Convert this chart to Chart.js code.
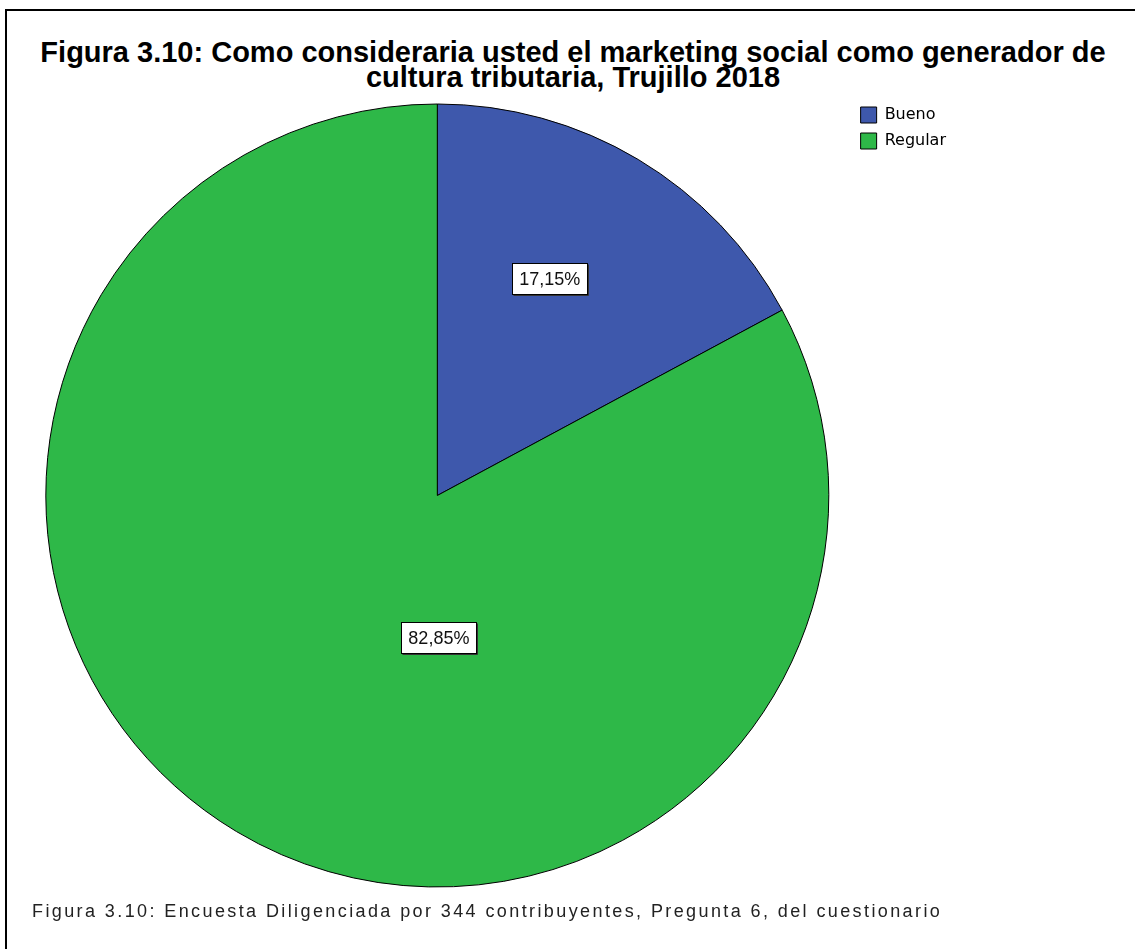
<html>
<head>
    <title>Figura 3.10 - Marketing social y cultura tributaria</title>
    <script src="https://cdn.jsdelivr.net/npm/chart.js@4/dist/chart.umd.min.js"></script>
    <style>
        html, body { margin: 0; background: #fff; overflow: hidden; }
        #marco { position: absolute; left: 5px; top: 9px; width: 1300px; height: 1100px;
                 border-left: 2px solid #000; border-top: 2px solid #000; }
        #titulo { position: absolute; left: 0; top: 40px; width: 1146px; text-align: center;
                  font: bold 29px "Liberation Sans", Arial, sans-serif; line-height: 25px; color: #000; }
        #nota { position: absolute; left: 32px; top: 901px; white-space: nowrap; letter-spacing: 2.4px;
                font: 18px "Liberation Sans", Arial, sans-serif; line-height: 20px; color: #222; }
        #contenedor { position: absolute; left: 0; top: 0; width: 1135px; height: 949px; }
    </style>
</head>

<body>
    <div id="marco"></div>
    <div id="titulo">Figura 3.10: Como consideraria usted el marketing social como generador de<br>cultura tributaria, Trujillo 2018</div>
    <div id="contenedor"><canvas id="grafico"></canvas></div>
    <div id="nota">Figura 3.10: Encuesta Diligenciada por 344 contribuyentes, Pregunta 6, del cuestionario</div>

    <script type="text/javascript">
        // respuestas a la pregunta 6 (porcentaje de 344 contribuyentes)
        const categorias = ['Bueno', 'Regular'];
        const porcentajes = [17.15, 82.85];
        const colores = ['#3E58AC', '#2EB848'];

        function formatoPct(v) {
            return v.toFixed(2).replace('.', ',') + '%';
        }

        // cajitas blancas con el porcentaje encima de cada sector
        const etiquetas = {
            id: 'etiquetas',
            afterDatasetsDraw(chart, args, opts) {
                const ctx = chart.ctx;
                const meta = chart.getDatasetMeta(0);
                ctx.save();
                ctx.font = '18px "Liberation Sans", Arial, sans-serif';
                ctx.textAlign = 'center';
                ctx.textBaseline = 'middle';
                meta.data.forEach(function(arc, i) {
                    const p = opts.posicion[i];
                    const cx = arc.x + p[0] * arc.outerRadius;
                    const cy = arc.y + p[1] * arc.outerRadius;
                    const texto = formatoPct(chart.data.datasets[0].data[i]);
                    const w = Math.round(ctx.measureText(texto).width + 14);
                    const h = 31;
                    const x0 = Math.round(cx - w / 2) + 0.5;
                    const y0 = Math.round(cy - h / 2) + 0.5;
                    ctx.fillStyle = '#fff';
                    ctx.fillRect(x0, y0, w, h);
                    ctx.strokeStyle = '#000';
                    ctx.lineWidth = 1;
                    ctx.strokeRect(x0, y0, w, h);
                    ctx.beginPath();
                    ctx.moveTo(x0 + 1, y0 + h + 1);
                    ctx.lineTo(x0 + w + 1, y0 + h + 1);
                    ctx.lineTo(x0 + w + 1, y0 + 1);
                    ctx.strokeStyle = '#333';
                    ctx.stroke();
                    ctx.fillStyle = '#111';
                    ctx.fillText(texto, cx, cy + 1);
                });
                ctx.restore();
            }
        };

        const data = {
            labels: categorias,
            datasets: [{
                data: porcentajes,
                backgroundColor: colores,
                borderColor: '#000',
                borderWidth: 1
            }]
        };

        const config = {
            type: 'pie',
            data: data,
            options: {
                responsive: true,
                maintainAspectRatio: false,
                animation: false,
                devicePixelRatio: 1,
                radius: 391.5,
                layout: { padding: { top: 97, bottom: 55, left: 24, right: 179 } },
                plugins: {
                    tooltip: { enabled: false },
                    title: { display: false },
                    legend: {
                        position: 'right',
                        align: 'start',
                        labels: {
                            boxWidth: 16,
                            boxHeight: 16,
                            padding: 10,
                            color: '#000',
                            font: { family: '"DejaVu Sans", sans-serif', size: 16 }
                        }
                    },
                    etiquetas: {
                        posicion: [[0.287, -0.554], [0.004, 0.363]]
                    }
                }
            },
            plugins: [etiquetas]
        };

        var grafico = new Chart(document.getElementById('grafico'), config);
    </script>
</body>

</html>
